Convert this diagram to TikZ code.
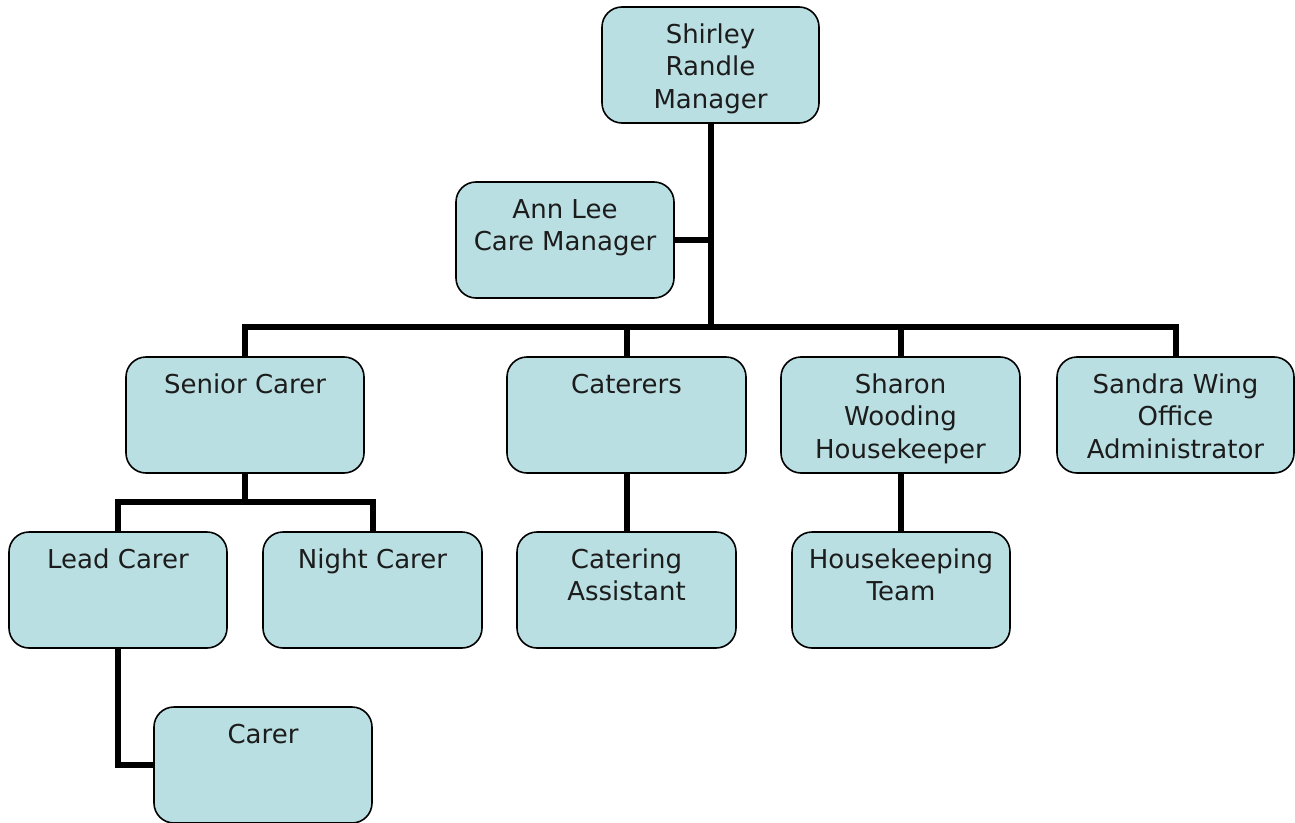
\documentclass[tikz,border=0pt]{standalone}
\usepackage{fontspec}
\setmainfont{DejaVu Sans}
\usetikzlibrary{backgrounds}
\definecolor{boxfill}{HTML}{BADFE2}
\definecolor{txt}{HTML}{1C1C1C}
\newcommand{\boxlines}[1]{\begin{tabular}[t]{@{}c@{}}#1\end{tabular}}
\tikzset{
  orgbox/.style={draw=black, line width=1.6bp, fill=boxfill, rounded corners=20bp,
    minimum height=116bp, inner sep=0pt, text=txt,
    text height=36bp, text depth=80bp,
    font={\fontsize{26bp}{32.5bp}\selectfont}},
  link/.style={line width=6bp, draw=black}
}
\begin{document}
\begin{tikzpicture}[x=1bp,y=-1bp]
\useasboundingbox (0,0) rectangle (1295,823);
\node[orgbox, minimum width=217bp] (shirley) at (710.5,65) {\boxlines{Shirley\\Randle\\Manager}};
\node[orgbox, minimum width=218bp] (ann) at (565,240) {\boxlines{Ann Lee\\Care Manager}};
\node[orgbox, minimum width=238bp] (senior) at (245,415) {\boxlines{Senior Carer}};
\node[orgbox, minimum width=239bp] (caterers) at (626.5,415) {\boxlines{Caterers}};
\node[orgbox, minimum width=239bp] (sharon) at (900.5,415) {\boxlines{Sharon\\Wooding\\Housekeeper}};
\node[orgbox, minimum width=237bp] (sandra) at (1175.5,415) {\boxlines{Sandra Wing\\Office\\Administrator}};
\node[orgbox, minimum width=218bp] (lead) at (118,590) {\boxlines{Lead Carer}};
\node[orgbox, minimum width=219bp] (night) at (372.5,590) {\boxlines{Night Carer}};
\node[orgbox, minimum width=219bp] (catass) at (626.5,590) {\boxlines{Catering\\Assistant}};
\node[orgbox, minimum width=218bp] (hkteam) at (901,590) {\boxlines{Housekeeping\\Team}};
\node[orgbox, minimum width=218bp] (carer) at (263,765) {\boxlines{Carer}};
\coordinate (bar) at (0,327);
\coordinate (sub) at (0,502);
\begin{scope}[on background layer]
\draw[link] (shirley.south) -- (shirley.south |- bar);
\draw[link] (ann.east) -- (ann.east -| shirley.south);
\draw[link] (senior.north) -- (senior.north |- bar) -- (sandra.north |- bar) -- (sandra.north);
\draw[link] (caterers.north) -- (caterers.north |- bar);
\draw[link] (sharon.north) -- (sharon.north |- bar);
\draw[link] (senior.south) -- (senior.south |- sub);
\draw[link] (lead.north) -- (lead.north |- sub) -- (night.north |- sub) -- (night.north);
\draw[link] (lead.south) |- (carer.west);
\draw[link] (caterers.south) -- (caterers.south |- catass.north);
\draw[link] (sharon.south) -- (sharon.south |- hkteam.north);
\end{scope}
\end{tikzpicture}
\end{document}
